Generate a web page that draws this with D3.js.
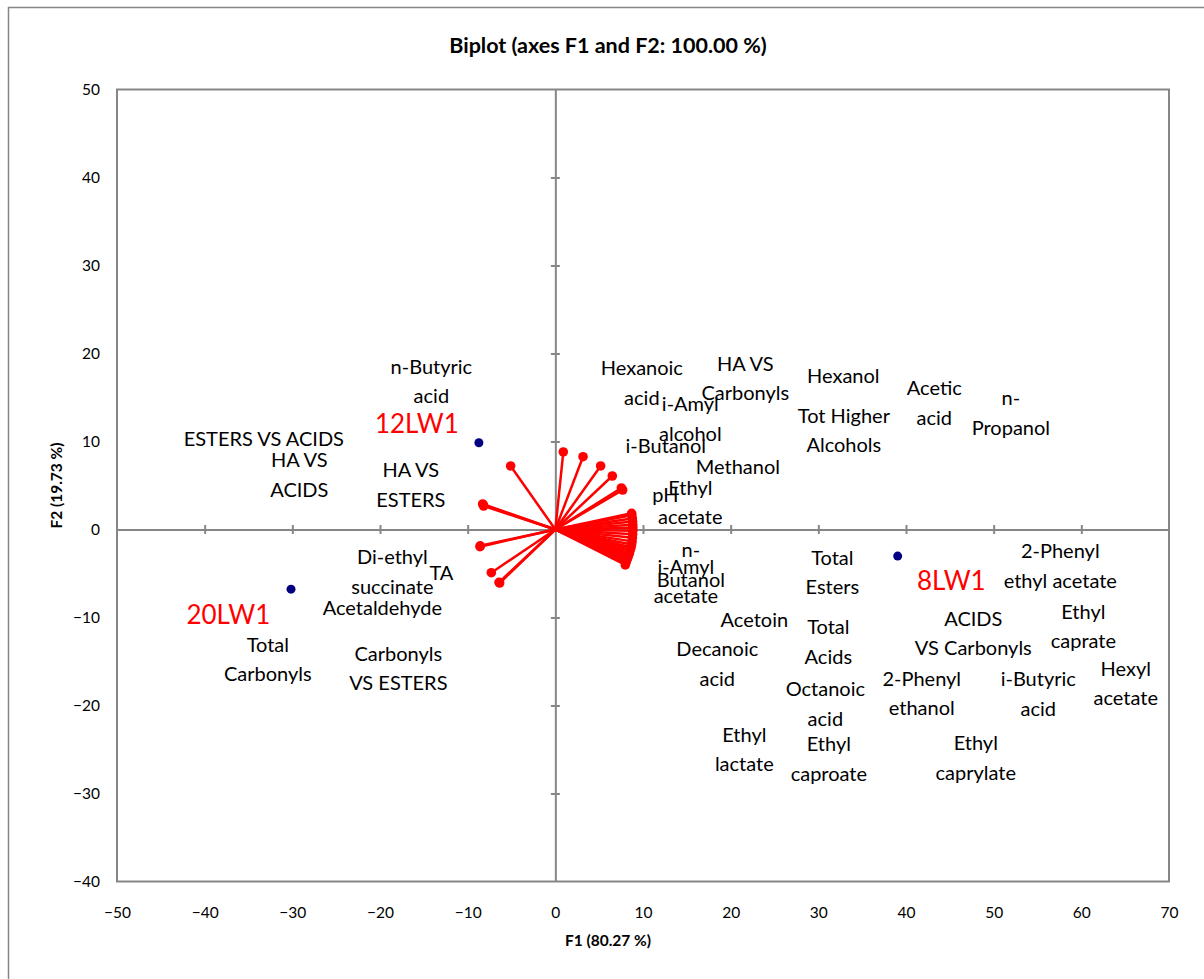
<!DOCTYPE html>
<html>
<head>
<meta charset="utf-8">
<script src="https://cdn.jsdelivr.net/npm/d3@7"></script>
<style>
  html, body { margin: 0; padding: 0; background: #fff; }
  svg { display: block; font-family: Lato, "Open Sans", sans-serif; }
</style>
</head>
<body>
<svg id="chart" width="1204" height="979"></svg>
<script>
// PCA biplot: variable loadings (red vectors) and observations (navy points)

const xTicks = [-50, -40, -30, -20, -10, 0, 10, 20, 30, 40, 50, 60, 70];
const yTicks = [-40, -30, -20, -10, 0, 10, 20, 30, 40, 50];

// Variable names ("|" marks a line break in the label)
const variables = [
  "n-Butyric|acid", "ESTERS VS ACIDS", "HA VS|ACIDS", "HA VS|ESTERS",
  "Di-ethyl|succinate", "TA", "Acetaldehyde", "Total|Carbonyls", "Carbonyls|VS ESTERS",
  "Hexanoic|acid", "i-Amyl|alcohol", "i-Butanol", "HA VS|Carbonyls", "Hexanol",
  "Tot Higher|Alcohols", "Acetic|acid", "n-|Propanol", "Methanol", "pH", "Ethyl|acetate",
  "n-|Butanol", "i-Amyl|acetate", "Total|Esters", "2-Phenyl|ethyl acetate", "Ethyl|caprate",
  "ACIDS|VS Carbonyls", "Hexyl|acetate", "2-Phenyl|ethanol", "i-Butyric|acid", "Total|Acids",
  "Acetoin", "Decanoic|acid", "Octanoic|acid", "Ethyl|caproate", "Ethyl|lactate", "Ethyl|caprylate"
];

// Vector end points (F1, F2)
const vecF1 = [
  -5.10, -8.29, -8.22, -8.18, -8.59, -8.57, -7.30, -6.35, -6.42,
  0.91, 3.16, 5.17, 6.50, 7.53, 7.68, 8.70, 8.72, 8.78, 8.81, 8.83,
  8.84, 8.84, 8.82, 8.79, 8.75, 8.70, 8.64, 8.58, 8.50, 8.44,
  8.36, 8.28, 8.20, 8.12, 8.04, 7.98
];
const vecF2 = [
  7.22, 2.90, 2.80, 2.67, -1.95, -1.85, -4.91, -6.08, -6.00,
  8.81, 8.27, 7.22, 6.08, 4.72, 4.49, 1.84, 1.62, 1.25, 0.90, 0.55,
  0.20, -0.15, -0.55, -0.95, -1.35, -1.70, -2.00, -2.20, -2.45, -2.70,
  -2.90, -3.15, -3.35, -3.55, -3.80, -4.03
];

// Variable label anchors (F1, F2)
const labelF1 = [
  -14.14, -33.25, -29.20, -16.48, -18.59, -13.00, -19.73, -32.79, -17.91,
  9.87, 15.40, 12.60, 21.67, 32.85, 32.91, 43.23, 51.96, 20.82, 12.55, 15.40,
  15.46, 14.89, 31.60, 57.60, 60.23, 47.68, 65.07, 41.80, 55.09, 31.14,
  22.70, 18.48, 30.80, 31.20, 21.56, 47.96
];
const labelF2 = [
  16.93, 10.40, 6.31, 5.17, -4.72, -4.83, -8.81, -14.66, -15.68,
  16.76, 12.67, 9.60, 17.27, 17.56, 11.36, 14.49, 13.35, 7.22, 4.03, 3.18,
  -3.92, -5.80, -4.77, -4.03, -10.91, -11.70, -17.39, -18.52, -18.58, -12.67,
  -10.17, -15.17, -19.72, -25.97, -24.89, -25.85
];

// Observations
const observations = ["12LW1", "20LW1", "8LW1"];
const obsF1 = [-8.72, -30.15, 39.05];
const obsF2 = [9.86, -6.78, -3.02];
const obsLabelF1 = [-15.80, -37.30, 45.17];
const obsLabelF2 = [12.10, -9.60, -5.74];

const svg = d3.select("#chart");
const plot = { left: 117, right: 1169, top: 89.5, bottom: 881.5 };
const grey = "#868686";

const x = d3.scaleLinear().domain([-50, 70]).range([plot.left, plot.right]);
const y = d3.scaleLinear().domain([-40, 50]).range([plot.bottom, plot.top]);

// Outer chart frame
svg.append("rect")
  .attr("x", 8.5).attr("y", 7.5)
  .attr("width", 1200).attr("height", 980)
  .attr("fill", "none").attr("stroke", grey).attr("stroke-width", 1.5);

// Title
svg.append("text")
  .attr("x", 608).attr("y", 45)
  .attr("text-anchor", "middle").attr("dominant-baseline", "central")
  .attr("font-weight", "bold").attr("font-size", 21.5)
  .text("Biplot (axes F1 and F2: 100.00 %)");

// Plot area frame
svg.append("rect")
  .attr("x", plot.left).attr("y", plot.top)
  .attr("width", plot.right - plot.left).attr("height", plot.bottom - plot.top)
  .attr("fill", "none").attr("stroke", grey).attr("stroke-width", 2);

// Tick labels on the outer edges
svg.append("g")
  .attr("transform", `translate(0,${plot.bottom})`)
  .call(d3.axisBottom(x).tickValues(xTicks).tickSize(0).tickPadding(25).tickFormat(d3.format("d")))
  .call(g => g.select(".domain").remove())
  .call(g => g.selectAll("text").attr("font-size", 15.5).attr("font-family", "Lato").attr("fill", "#000"));

svg.append("g")
  .attr("transform", `translate(${plot.left},0)`)
  .call(d3.axisLeft(y).tickValues(yTicks).tickSize(0).tickPadding(17).tickFormat(d3.format("d")))
  .call(g => g.select(".domain").remove())
  .call(g => g.selectAll("text").attr("font-size", 15.5).attr("font-family", "Lato").attr("fill", "#000"));

// Zero axes with crossing tick marks
const zeroX = d3.axisBottom(x).tickValues(xTicks.filter(d => d > -50 && d < 70 && d !== 0))
  .tickSizeInner(4.5).tickSizeOuter(0).tickFormat("");
const gx = svg.append("g").attr("transform", `translate(0,${y(0)})`).call(zeroX);
gx.selectAll(".tick line").attr("y1", -4.5).attr("y2", 4.5);
gx.selectAll("path, line").attr("stroke", grey).attr("stroke-width", 2);

const zeroY = d3.axisLeft(y).tickValues(yTicks.filter(d => d > -40 && d < 50 && d !== 0))
  .tickSizeInner(4.5).tickSizeOuter(0).tickFormat("");
const gy = svg.append("g").attr("transform", `translate(${x(0)},0)`).call(zeroY);
gy.selectAll(".tick line").attr("x1", -4.5).attr("x2", 4.5);
gy.selectAll("path, line").attr("stroke", grey).attr("stroke-width", 2);

// Axis titles
svg.append("text")
  .attr("x", 608).attr("y", 940)
  .attr("text-anchor", "middle").attr("dominant-baseline", "central")
  .attr("font-weight", "bold").attr("font-size", 15.5)
  .text("F1 (80.27 %)");

svg.append("text")
  .attr("transform", `translate(56,${(plot.top + plot.bottom) / 2}) rotate(-90)`)
  .attr("text-anchor", "middle").attr("dominant-baseline", "central")
  .attr("font-weight", "bold").attr("font-size", 15.5)
  .text("F2 (19.73 %)");

// Variable labels
const lineH = 29.5;
const labels = svg.append("g").attr("font-size", 20).attr("fill", "#000");
variables.forEach((name, i) => {
  const lines = name.split("|");
  const cx = x(labelF1[i]), cy = y(labelF2[i]);
  const t = labels.append("text").attr("text-anchor", "middle");
  lines.forEach((ln, k) => {
    t.append("tspan")
      .attr("x", cx)
      .attr("y", cy + (k - (lines.length - 1) / 2) * lineH)
      .attr("dominant-baseline", "central")
      .text(ln);
  });
});

// Loading vectors
const vg = svg.append("g");
variables.forEach((name, i) => {
  vg.append("line")
    .attr("x1", x(0)).attr("y1", y(0))
    .attr("x2", x(vecF1[i])).attr("y2", y(vecF2[i]))
    .attr("stroke", "#ff0000").attr("stroke-width", 2.5);
});
variables.forEach((name, i) => {
  vg.append("circle")
    .attr("cx", x(vecF1[i])).attr("cy", y(vecF2[i]))
    .attr("r", 4.8).attr("fill", "#ff0000");
});

// Observations
observations.forEach((name, i) => {
  svg.append("circle")
    .attr("cx", x(obsF1[i])).attr("cy", y(obsF2[i]))
    .attr("r", 4.5).attr("fill", "#000080");
  svg.append("text")
    .attr("x", x(obsLabelF1[i])).attr("y", y(obsLabelF2[i]))
    .attr("text-anchor", "middle").attr("dominant-baseline", "central")
    .attr("font-size", 26).attr("fill", "#ff0000")
    .text(name);
});
</script>
</body>
</html>
